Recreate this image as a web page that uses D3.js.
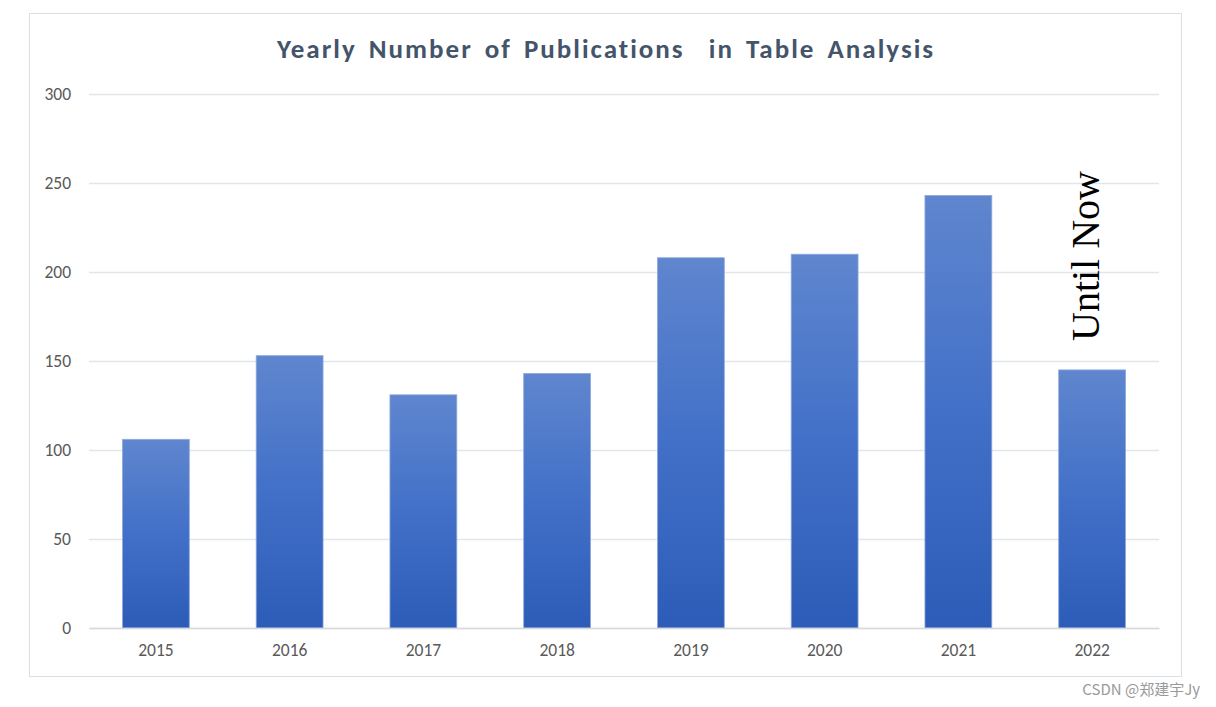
<!DOCTYPE html>
<html>
<head>
<meta charset="utf-8">
<script src="https://cdn.jsdelivr.net/npm/d3@7/dist/d3.min.js"></script>
<style>
  html, body { margin: 0; padding: 0; background: #fff; }
  svg { display: block; }
</style>
</head>
<body>
<svg id="chart" width="1216" height="707"></svg>
<script>
const years = ["2015", "2016", "2017", "2018", "2019", "2020", "2021", "2022"];
const publications = [106, 153, 131, 143, 208, 210, 243, 145];
const yTicks = [0, 50, 100, 150, 200, 250, 300];
const titleText = "Yearly Number of Publications\u00a0 in Table Analysis";
const noteText = "Until Now";
const watermark = "CSDN @郑建宇Jy";

const svg = d3.select("#chart");
const plot = { left: 89, right: 1159, top: 94, bottom: 628 };

// chart frame
svg.append("rect")
  .attr("x", 29.5).attr("y", 13.5)
  .attr("width", 1152).attr("height", 663)
  .attr("fill", "#fff").attr("stroke", "#D9DEE7").attr("stroke-width", 1);

const defs = svg.append("defs");
const grad = defs.append("linearGradient")
  .attr("id", "barGrad").attr("x1", 0).attr("y1", 0).attr("x2", 0).attr("y2", 1);
grad.append("stop").attr("offset", "0%").attr("stop-color", "#5F86CE");
grad.append("stop").attr("offset", "50%").attr("stop-color", "#4270C8");
grad.append("stop").attr("offset", "100%").attr("stop-color", "#2D5CB8");

const x = d3.scaleBand().domain(years)
  .range([plot.left, plot.right]).paddingInner(0.5).paddingOuter(0.25);
const y = d3.scaleLinear().domain([0, 300]).range([plot.bottom, plot.top]);

const labelFont = "Carlito, Lato, 'Open Sans', sans-serif";

// gridlines
const yAxis = d3.axisLeft(y).tickValues(yTicks)
  .tickSize(-(plot.right - plot.left)).tickPadding(18);
const gy = svg.append("g").attr("transform", `translate(${plot.left},0)`).call(yAxis);
gy.select(".domain").remove();
gy.selectAll(".tick line").attr("stroke", "#E2E5EA").attr("stroke-width", 1.5);
gy.selectAll(".tick text")
  .attr("fill", "#595959")
  .style("font-family", labelFont)
  .style("font-size", "17.5px");

// bars
svg.append("g").selectAll("rect")
  .data(years.map((yr, i) => ({ yr, v: publications[i] })))
  .join("rect")
  .attr("x", d => x(d.yr))
  .attr("y", d => y(d.v))
  .attr("width", x.bandwidth())
  .attr("height", d => y(0) - y(d.v))
  .attr("fill", "url(#barGrad)")
  .attr("stroke", "#8FAADC").attr("stroke-width", 0.8);

// x axis
const xAxis = d3.axisBottom(x).tickSize(0).tickPadding(16);
const gx = svg.append("g").attr("transform", `translate(0,${plot.bottom})`).call(xAxis);
gx.select(".domain").attr("stroke", "#D9D9D9").attr("stroke-width", 1.5);
gx.selectAll(".tick text")
  .attr("fill", "#595959")
  .style("font-family", labelFont)
  .style("font-size", "17.5px");

// title
svg.append("text")
  .attr("x", 606).attr("y", 58)
  .attr("text-anchor", "middle")
  .attr("fill", "#44546A")
  .style("font-family", labelFont)
  .style("font-weight", "bold")
  .style("font-size", "27px")
  .style("letter-spacing", "2px")
  .style("word-spacing", "4px")
  .text(titleText);

// rotated note
svg.append("text")
  .attr("transform", `translate(${x("2022") + x.bandwidth() / 2 + 7}, 256) rotate(-90)`)
  .attr("text-anchor", "middle")
  .attr("fill", "#000")
  .style("font-family", "'Liberation Serif', 'Times New Roman', serif")
  .style("font-size", "40px")
  .text(noteText);

// watermark
svg.append("text")
  .attr("x", 1200).attr("y", 695)
  .attr("text-anchor", "end")
  .attr("fill", "#9A9A9A")
  .style("font-family", "'Noto Sans CJK SC', 'Noto Sans', sans-serif")
  .style("font-size", "15px")
  .text(watermark);
</script>
</body>
</html>
